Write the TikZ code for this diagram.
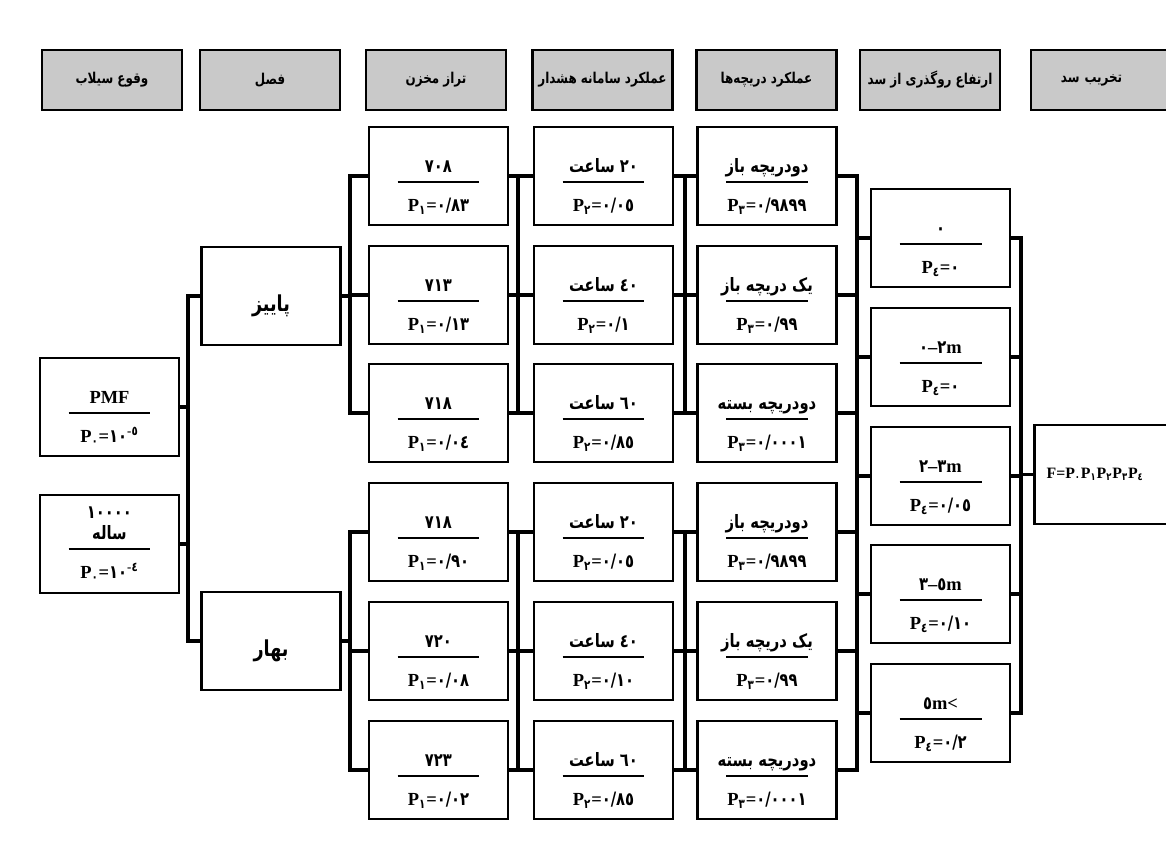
\documentclass[tikz,border=0pt]{standalone}
\usepackage{fontspec}
\setmainfont{Liberation Serif}
\newfontfamily\fa[Script=Arabic, FakeStretch=0.8]{DejaVu Sans}
\TeXXeTstate=1
\usepackage{tikz}

\newcommand{\pr}[2]{P\textsubscript{\fa #1}={\fa #2}}
\newcommand{\twolines}[2]{\rule{0pt}{20pt}#1\\[-7pt]\rule{1.64cm}{1.5pt}\\[3pt]#2}

\begin{document}
\begin{tikzpicture}[x=0.02cm, y=-0.02cm,
    hdr/.style={draw, line width=1.2pt, fill=gray!42, minimum width=2.8cm,
      minimum height=1.2cm, inner sep=0pt, font=\fa\bfseries\fontsize{8.5}{10}\selectfont},
    box/.style={draw, line width=1.5pt, fill=white, minimum width=2.78cm,
      minimum height=1.96cm, inner sep=0pt, align=center,
      font=\bfseries\fontsize{10.5}{13}\selectfont},
    season/.style={box, font=\fa\bfseries\fontsize{12.5}{14}\selectfont},
    conn/.style={line width=2.2pt, line cap=rect}]

  \useasboundingbox (0,0) rectangle (1166,857);
  \clip (0,0) rectangle (1166,857);

  % bus lines
  \coordinate (bA) at (188,0);
  \coordinate (bB) at (350,0);
  \coordinate (bC) at (518,0);
  \coordinate (bD) at (685,0);
  \coordinate (bE) at (857,0);
  \coordinate (bG) at (1021,0);

  % headers
  \node[hdr] (h1) at (112,80) {\beginR وقوع سیلاب\endR};
  \node[hdr] (h2) at (270,80) {\beginR فصل\endR};
  \node[hdr] (h3) at (436,80) {\beginR تراز مخزن\endR};
  \node[hdr] (h4) at (602.5,80) {\beginR عملکرد سامانه هشدار\endR};
  \node[hdr] (h5) at (766.5,80) {\beginR عملکرد دریچه‌ها\endR};
  \node[hdr] (h6) at (930,80) {\beginR ارتفاع روگذری از سد\endR};
  \node[hdr, anchor=west, text width=2.6cm, align=left, inner xsep=17pt] (h7)
    at (1030,80) {\beginR تخریب سد\endR};

  % flood
  \node[box] (pmf) at (109.5,407) {\twolines{PMF}{\pr{۰}{۱۰}\textsuperscript{-{\fa ٥}}}};
  \node[box] (yr) at (109.5,544)
    {{\fa ۱۰۰۰۰}\\[-1pt]{\fa ساله}\\[-7pt]\rule{1.64cm}{1.5pt}\\[3pt]\pr{۰}{۱۰}\textsuperscript{-{\fa ٤}}};

  % season
  \node[season] (fall) at (271,296) {\rule{0pt}{21pt}پاییز};
  \node[season] (spring) at (271,641) {\rule{0pt}{21pt}بهار};

  % reservoir level
  \node[box] (res1) at (438.5,176) {\twolines{\fa ۷۰۸}{\pr{۱}{۰/۸۳}}};
  \node[box] (res2) at (438.5,295) {\twolines{\fa ۷۱۳}{\pr{۱}{۰/۱۳}}};
  \node[box] (res3) at (438.5,413) {\twolines{\fa ۷۱۸}{\pr{۱}{۰/۰٤}}};
  \node[box] (res4) at (438.5,532) {\twolines{\fa ۷۱۸}{\pr{۱}{۰/۹۰}}};
  \node[box] (res5) at (438.5,651) {\twolines{\fa ۷۲۰}{\pr{۱}{۰/۰۸}}};
  \node[box] (res6) at (438.5,770) {\twolines{\fa ۷۲۳}{\pr{۱}{۰/۰۲}}};

  % warning system
  \node[box] (warn1) at (603.5,176) {\twolines{\fa\beginR\beginL ۲۰\endL{} ساعت\endR}{\pr{۲}{۰/۰٥}}};
  \node[box] (warn2) at (603.5,295) {\twolines{\fa\beginR\beginL ٤۰\endL{} ساعت\endR}{\pr{۲}{۰/۱}}};
  \node[box] (warn3) at (603.5,413) {\twolines{\fa\beginR\beginL ٦۰\endL{} ساعت\endR}{\pr{۲}{۰/۸٥}}};
  \node[box] (warn4) at (603.5,532) {\twolines{\fa\beginR\beginL ۲۰\endL{} ساعت\endR}{\pr{۲}{۰/۰٥}}};
  \node[box] (warn5) at (603.5,651) {\twolines{\fa\beginR\beginL ٤۰\endL{} ساعت\endR}{\pr{۲}{۰/۱۰}}};
  \node[box] (warn6) at (603.5,770) {\twolines{\fa\beginR\beginL ٦۰\endL{} ساعت\endR}{\pr{۲}{۰/۸٥}}};

  % gates
  \node[box] (gate1) at (767,176) {\twolines{\fa\beginR دودریچه باز\endR}{\pr{۳}{۰/۹۸۹۹}}};
  \node[box] (gate2) at (767,295) {\twolines{\fa\beginR یک دریچه باز\endR}{\pr{۳}{۰/۹۹}}};
  \node[box] (gate3) at (767,413) {\twolines{\fa\beginR دودریچه بسته\endR}{\pr{۳}{۰/۰۰۰۱}}};
  \node[box] (gate4) at (767,532) {\twolines{\fa\beginR دودریچه باز\endR}{\pr{۳}{۰/۹۸۹۹}}};
  \node[box] (gate5) at (767,651) {\twolines{\fa\beginR یک دریچه باز\endR}{\pr{۳}{۰/۹۹}}};
  \node[box] (gate6) at (767,770) {\twolines{\fa\beginR دودریچه بسته\endR}{\pr{۳}{۰/۰۰۰۱}}};

  % overtopping height
  \node[box] (over1) at (940.5,238) {\twolines{\fa ۰}{\pr{٤}{۰}}};
  \node[box] (over2) at (940.5,357) {\twolines{{\fa ۰}--{\fa ۲}m}{\pr{٤}{۰}}};
  \node[box] (over3) at (940.5,476) {\twolines{{\fa ۲}--{\fa ۳}m}{\pr{٤}{۰/۰٥}}};
  \node[box] (over4) at (940.5,594) {\twolines{{\fa ۳}--{\fa ٥}m}{\pr{٤}{۰/۱۰}}};
  \node[box] (over5) at (940.5,713) {\twolines{{\fa ٥}m<}{\pr{٤}{۰/۲}}};

  % dam failure
  \node[draw, line width=1.5pt, minimum height=1.98cm, anchor=west, text width=2.8cm,
    align=left, inner xsep=7pt, font=\bfseries\fontsize{9}{11}\selectfont] (fail)
    at (1033,474.5) {F=P\textsubscript{\fa ۰}P\textsubscript{\fa ۱}P\textsubscript{\fa ۲}P\textsubscript{\fa ۳}P\textsubscript{\fa ٤}};

  % connectors
  \draw[conn] (pmf.east) -- (pmf.east -| bA);
  \draw[conn] (yr.east) -- (yr.east -| bA);
  \draw[conn] (fall.west -| bA) -- (spring.west -| bA);
  \draw[conn] (fall.west -| bA) -- (fall.west);
  \draw[conn] (spring.west -| bA) -- (spring.west);

  \draw[conn] (fall.east) -- (fall.east -| bB);
  \draw[conn] (spring.east) -- (spring.east -| bB);
  \draw[conn] (res1.west -| bB) -- (res3.west -| bB);
  \draw[conn] (res4.west -| bB) -- (res6.west -| bB);
  \foreach \i in {1,...,6} {
    \draw[conn] (res\i.west -| bB) -- (res\i.west);
    \draw[conn] (res\i.east) -- (warn\i.west);
    \draw[conn] (warn\i.east) -- (gate\i.west);
    \draw[conn] (gate\i.east) -- (gate\i.east -| bE);
  }
  \draw[conn] (res1.east -| bC) -- (res3.east -| bC);
  \draw[conn] (res4.east -| bC) -- (res6.east -| bC);
  \draw[conn] (warn1.east -| bD) -- (warn3.east -| bD);
  \draw[conn] (warn4.east -| bD) -- (warn6.east -| bD);

  \draw[conn] (gate1.east -| bE) -- (gate6.east -| bE);
  \foreach \j in {1,...,5} {
    \draw[conn] (over\j.west -| bE) -- (over\j.west);
    \draw[conn] (over\j.east) -- (over\j.east -| bG);
  }
  \draw[conn] (over1.east -| bG) -- (over5.east -| bG);
  \draw[conn] (fail.west -| bG) -- (fail.west);

\end{tikzpicture}
\end{document}
